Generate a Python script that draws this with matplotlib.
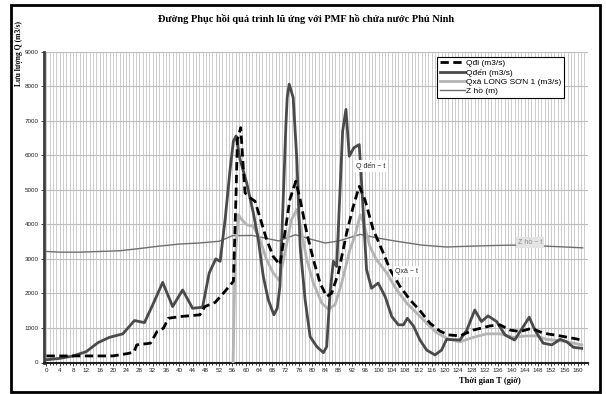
import numpy as np
import matplotlib.pyplot as plt
from matplotlib.patches import Rectangle
from matplotlib.ticker import MultipleLocator

# values (t in hours, Q in m3/s)
t_den = [0, 4, 8, 12, 15.5, 19, 23, 26.5, 29.5, 32, 35, 38, 41, 44, 47, 49, 51, 52.3,
         53.8, 55.3, 56.3, 57.1, 58.3, 60.3, 62.3, 63.8, 65.3, 66.8, 68.5, 69.5, 70.3,
         71.3, 72.1, 72.5, 73.1, 74.3, 75.4, 76.4, 77.9, 79.4, 81.4, 83.4, 84.4, 85.4,
         86.4, 87.4, 89.2, 90.2, 91.2, 92.6, 94.2, 94.9, 96.4, 97.9, 99.9, 102, 104,
         106, 107.5, 108.7, 110.5, 112.5, 114.5, 117, 119, 120.5, 124.5, 126.6, 129,
         131, 133, 135.6, 138.1, 141, 143.6, 145.4, 147.1, 149.6, 152.2, 154.7, 156.7,
         158.7, 161.2]
q_den = [80, 120, 190, 315, 575, 730, 830, 1215, 1155, 1670, 2320, 1620, 2100, 1570,
         1600, 2590, 3000, 2930, 4140, 5590, 6410, 6560, 5880, 5200, 4330, 3560, 2490,
         1815, 1380, 1570, 2200, 4720, 6850, 7670, 8060, 7670, 5880, 3360, 1815, 750,
         460, 285, 460, 2010, 2930, 2780, 6700, 7330, 5975, 6220, 6310, 5200, 2690, 2150,
         2300, 1910, 1330, 1090, 1090, 1280, 1060, 650, 360, 220, 360, 670, 650, 940,
         1520, 1185, 1350, 1185, 800, 650, 1040, 1310, 940, 560, 510, 670, 600, 440, 410]

t_di = [0, 20, 24.5, 26.3, 27.2, 31.3, 33.3, 35.2, 36.7, 40.2, 46.2, 47.7, 50.8, 53.3,
        56.3, 57.1, 57.5, 58.5, 59.3, 59.8, 61.3, 62.8, 64.8, 66.3, 68.3, 70.3, 71.8,
        73.3, 75.1, 76.4, 78.4, 80.4, 82.4, 84.4, 85.9, 87.9, 90.4, 92.4, 94.2, 95.9,
        98.4, 101, 103.5, 106.5, 109.5, 112.5, 115.5, 118.5, 121, 124.5, 128.6, 133.6,
        136.6, 139.6, 142.6, 146.1, 149.6, 154.7, 158.7, 161.2]
q_di = [190, 190, 260, 300, 510, 560, 895, 990, 1280, 1330, 1380, 1620, 1740, 2010,
        2350, 4910, 6460, 6800, 5590, 4910, 4770, 4670, 4040, 3560, 3070, 2830, 3750,
        4720, 5250, 4720, 3750, 2975, 2300, 1910, 2010, 2590, 3750, 4520, 5100, 4720,
        3850, 3270, 2690, 2200, 1815, 1500, 1140, 910, 800, 770, 940, 1060, 1090, 940,
        895, 990, 850, 770, 700, 650]

t_xa = [56.2, 56.8, 57.8, 58.8, 60.3, 62.3, 64.3, 66.3, 68.3, 70.1, 71.8, 73.8, 75.4,
        76.9, 78.4, 80.4, 82.9, 84.9, 86.9, 88.9, 91.4, 93, 94.5, 95.5, 97.4, 99.4,
        102.5, 105.5, 108.5, 111.5, 114.5, 117.5, 121, 124.5, 128.6, 132.6, 136.6,
        140.6, 144.6, 147.6, 150.6, 154.7, 158.7, 161.2]
q_xa = [0, 2975, 4280, 4140, 3990, 3940, 3560, 2975, 2590, 2375, 3170, 4140, 4430,
        3750, 2975, 2300, 1720, 1545, 1670, 2300, 3270, 3700, 4280, 4040, 3360, 2975,
        2590, 2100, 1720, 1430, 1140, 865, 680, 600, 730, 830, 830, 730, 770, 770, 670,
        630, 560, 510]

t_z = [0, 4, 10, 16, 22, 28, 34, 40, 46, 52, 56, 62, 67, 70, 75, 80, 84, 88, 94.5,
       100, 105.5, 113, 120.5, 128, 135.6, 141.6, 148, 155, 161.5]
z_ho = [3215, 3195, 3195, 3215, 3235, 3300, 3370, 3430, 3460, 3510, 3670, 3680, 3580,
        3520, 3700, 3560, 3460, 3520, 3710, 3600, 3510, 3400, 3345, 3370, 3390, 3400,
        3380, 3350, 3320]

serif = "Liberation Serif"
sans = "Liberation Sans"

fig = plt.figure(figsize=(6.06, 3.94), dpi=100)
ax = fig.add_axes([44 / 606, 1 - 362.5 / 394, 544 / 606, 310.8 / 394])

ax.plot(t_z, z_ho, color="#6e6e6e", lw=1.0, label="Z hồ (m)", zorder=3)
ax.plot(t_xa, q_xa, color="#b4b4b4", lw=2.0, label="Qxả LONG SƠN 1 (m3/s)", zorder=4)
ax.plot(t_den, q_den, color="#4a4a4a", lw=2.0, label="Qđến (m3/s)", zorder=5)
ax.plot(t_di, q_di, color="black", lw=2.0, ls=(0, (3, 1.6)), label="Qđi (m3/s)", zorder=6)

ax.set_xlim(-0.75, 163.1)
ax.set_ylim(0, 9000)
ax.set_xticks(range(0, 161, 4))
ax.xaxis.set_minor_locator(MultipleLocator(1))
ax.set_yticks(range(0, 9001, 1000))
ax.grid(axis="x", which="both", color="#c4c4c4", lw=0.6)
ax.grid(axis="y", which="major", color="#bdbdbd", lw=0.8)
ax.set_axisbelow(True)

for s in ["top", "right"]:
    ax.spines[s].set_visible(False)
ax.spines["left"].set_color("#3c3c3c")
ax.spines["left"].set_linewidth(2)
ax.spines["bottom"].set_color("#202020")
ax.spines["bottom"].set_linewidth(1.5)

ax.tick_params(axis="both", which="major", labelsize=4.5, length=2, width=0.6,
               colors="#222222", pad=2)
ax.tick_params(axis="x", which="minor", length=1.5, width=0.6, colors="#222222")
for lb in ax.get_xticklabels() + ax.get_yticklabels():
    lb.set_fontfamily(sans)

# curve labels
ax.text(93.2, 5640, "Q đến ~ t", fontsize=5, family=sans, color="#222222",
        bbox=dict(facecolor="white", edgecolor="none", pad=1.5), zorder=7)
ax.text(105, 2600, "Qxả ~ t", fontsize=5, family=sans, color="#222222",
        bbox=dict(facecolor="white", edgecolor="none", pad=1.5), zorder=7)
ax.text(142, 3440, "Z hồ ~ t", fontsize=5, family=sans, color="#8a8a8a",
        bbox=dict(facecolor="#e4e4e4", edgecolor="none", pad=1.5), zorder=7)

# legend, ordered like the reference
h, l = ax.get_legend_handles_labels()
order = [3, 2, 1, 0]
leg = ax.legend([h[i] for i in order], [l[i] for i in order],
                loc="upper left", bbox_to_anchor=(437 / 606, 1 - 57 / 394),
                bbox_transform=fig.transFigure, prop={"family": sans, "size": 6},
                handlelength=3.0, handletextpad=0.2, borderpad=0.3, labelspacing=0.15,
                borderaxespad=0, fancybox=False, framealpha=1, edgecolor="black")
leg.get_frame().set_linewidth(0.8)
leg.set_zorder(10)

fig.text(306 / 606, 1 - 19 / 394, "Đường Phục hồi quá trình lũ ứng với PMF hồ chứa nước Phú Ninh",
         ha="center", va="center", fontsize=7.5, fontweight="bold", family=serif)
fig.text(19 / 606, 1 - 54 / 394, "Lưu lượng Q (m3/s)", rotation=90, ha="center",
         va="center", fontsize=5.5, fontweight="bold", family=serif)
fig.text(490 / 606, 1 - 381 / 394, "Thời gian T (giờ)", ha="center", va="center",
         fontsize=6, fontweight="bold", family=serif)

# outer frame
fig.patches.append(Rectangle((11 / 606, 2 / 394), 589 / 606, 387 / 394,
                             transform=fig.transFigure, fill=False,
                             edgecolor="black", lw=2))

fig.savefig("out.png", dpi=100)
